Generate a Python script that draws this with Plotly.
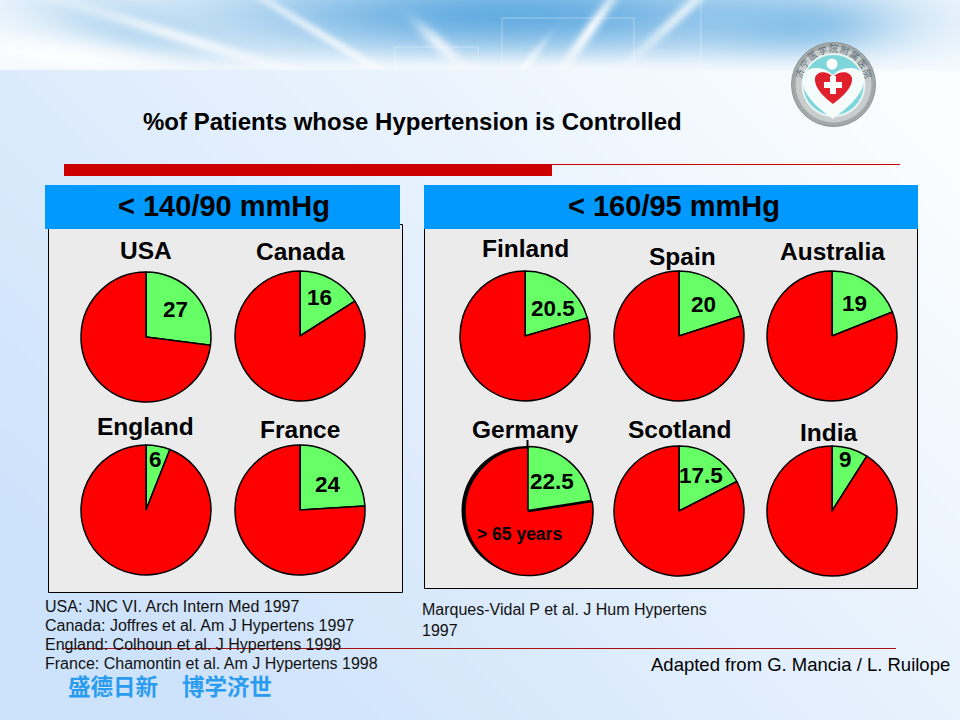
#  %of patients whose hypertension is controlled - slide with 10 pies
import base64
import math
import struct
import zlib
import numpy as np
import plotly.graph_objects as go

W, H = 960, 720
FONT = "Liberation Sans"

countries = ["USA", "Canada", "England", "France", "Finland", "Spain", "Australia", "Germany", "Scotland", "India"]
controlled = [27, 16, 6, 24, 20.5, 20, 19, 22.5, 17.5, 9]
citations_left = [
    "USA: JNC VI. Arch Intern Med 1997",
    "Canada: Joffres et al. Am J Hypertens 1997",
    "England: Colhoun et al. J Hypertens 1998",
    "France: Chamontin et al. Am J Hypertens 1998",
]
citations_right = ["Marques-Vidal P et al. J Hum Hypertens", "1997"]

# pixel layout of the slide, same order as countries
pie_centers = [(146, 337), (300, 336), (146, 510), (300, 510), (525, 336), (679, 336), (832, 336), (528, 511), (679, 511), (832, 511)]
name_pos = [(146, 250), (300, 252), (145, 426), (300, 429), (525, 248), (682, 256), (832, 251), (525, 429), (679, 429), (829, 432)]
value_pos = [(175, 309), (319, 297), (155, 460), (328, 484), (553, 308), (703, 304), (854, 303), (552, 482), (701, 475), (845, 460)]
RADIUS = 65

GREEN = "#66ff66"
RED = "#ff0000"


def px(x):
    return x / W


def py(y):
    return 1 - y / H


def domain(cx, cy, r):
    return dict(x=[px(cx - r), px(cx + r)], y=[py(cy + r), py(cy - r)])


def rect(x0, y0, x1, y1, fill, line=None, width=1, layer="below", opacity=1):
    return dict(type="rect", xref="paper", yref="paper", x0=px(x0), x1=px(x1), y0=py(y0), y1=py(y1),
                fillcolor=fill, line=dict(color=line, width=width if line else 0), layer=layer, opacity=opacity)


def circle(cx, cy, r, fill, line=None, width=1, layer="below"):
    return dict(type="circle", xref="paper", yref="paper", x0=px(cx - r), x1=px(cx + r), y0=py(cy + r), y1=py(cy - r),
                fillcolor=fill, line=dict(color=line, width=width if line else 0), layer=layer)


def seg(x0, y0, x1, y1, color, width=1, layer="above", opacity=1):
    return dict(type="line", xref="paper", yref="paper", x0=px(x0), x1=px(x1), y0=py(y0), y1=py(y1),
                line=dict(color=color, width=width), layer=layer, opacity=opacity)


def path(points, fill, layer="above"):
    # points are pixel coords, "C" groups three of them as a bezier
    s = ""
    for p in points:
        if isinstance(p, str):
            s += p + " "
        else:
            s += f"{px(p[0]):.5f},{py(p[1]):.5f} "
    return dict(type="path", xref="paper", yref="paper", path=s + "Z", fillcolor=fill, line=dict(width=0), layer=layer)


def label(x, y, text, size, bold=True, anchor="center", color="black", family=FONT, angle=0):
    return dict(xref="paper", yref="paper", x=px(x), y=py(y), text=f"<b>{text}</b>" if bold else text, showarrow=False,
                xanchor=anchor, yanchor="middle", textangle=angle, font=dict(family=family, size=size, color=color))


def blend(img, mask, color):
    for i in range(3):
        img[:, :, i] = img[:, :, i] * (1 - mask) + color[i] * mask


def make_background():
    # soft slide background, written as a small png with the stdlib
    w, h = 480, 360
    xs, ys = np.meshgrid((np.arange(w) + 0.5) * 2, (np.arange(h) + 0.5) * 2)
    t = np.clip((1 - xs / 960) * 0.75 + (ys / 720) * 0.55 - 0.15, 0, 1)
    img = np.zeros((h, w, 3))
    for i, (a, b) in enumerate(zip((250, 253, 255), (205, 226, 251))):
        img[:, :, i] = a + (b - a) * t

    band = np.ones((h, w, 3)) * 255.0
    band[:, :, 0] = 247
    band[:, :, 1] = 251

    def blob(cx, cy, sx, sy, ang, color, alpha):
        c, s = math.cos(ang), math.sin(ang)
        u = (xs - cx) * c + (ys - cy) * s
        v = -(xs - cx) * s + (ys - cy) * c
        blend(band, alpha * np.exp(-(u / sx) ** 2 - (v / sy) ** 2), color)

    blob(510, 15, 300, 42, 0, (95, 170, 225), 0.95)
    blob(800, 25, 90, 28, 0, (120, 185, 230), 0.75)
    blob(140, 30, 110, 25, 0.25, (150, 200, 235), 0.55)
    blob(70, 55, 120, 14, 0.1, (255, 255, 255), 0.8)
    blob(190, 40, 120, 7, 0.3, (255, 255, 255), 0.75)
    blob(330, 40, 110, 5, 0.55, (255, 255, 255), 0.7)
    blob(590, 30, 50, 6, -0.95, (255, 255, 255), 0.9)
    blob(680, 15, 60, 6, -0.75, (255, 255, 255), 0.7)
    blob(440, 45, 30, 7, 0.75, (255, 255, 255), 0.75)
    blob(530, 60, 25, 4, -0.9, (255, 255, 255), 0.6)
    blob(480, 72, 400, 14, 0, (255, 255, 255), 0.7)
    mask = (ys < 71) * 1.0
    blend(img, mask, (0, 0, 0))
    img += band * mask[:, :, None]

    raw = np.clip(img, 0, 255).astype(np.uint8)
    rows = b"".join(b"\x00" + raw[r].tobytes() for r in range(h))

    def chunk(tag, data):
        return struct.pack(">I", len(data)) + tag + data + struct.pack(">I", zlib.crc32(tag + data))

    png = b"\x89PNG\r\n\x1a\n" + chunk(b"IHDR", struct.pack(">IIBBBBB", w, h, 8, 2, 0, 0, 0))
    png += chunk(b"IDAT", zlib.compress(rows, 9)) + chunk(b"IEND", b"")
    return "data:image/png;base64," + base64.b64encode(png).decode()


def ring_text(text, cx, cy, r, start, step, size, color):
    # one annotation per character, walking around the logo ring
    out = []
    for i, ch in enumerate(text):
        a = math.radians(start + i * step)
        x = cx + r * math.sin(a)
        y = cy - r * math.cos(a)
        out.append(label(x, y, ch, size, bold=False, color=color, family="Noto Sans CJK SC", angle=start + i * step))
    return out


fig = go.Figure()

for name, val, (cx, cy) in zip(countries, controlled, pie_centers):
    if name == "Germany":
        # the slide has this one a bit knocked out of place: red shifted off the black disc
        fig.add_trace(go.Pie(values=[val, 100 - val], domain=domain(cx + 1, cy + 0.5, 64), sort=False, direction="clockwise",
                             marker=dict(colors=["rgba(0,0,0,0)", RED], line=dict(color=["rgba(0,0,0,0)", "black"], width=1.5)),
                             textinfo="none", hoverinfo="skip", showlegend=False))
        fig.add_trace(go.Pie(values=[val, 100 - val], domain=domain(cx, cy - 0.5, 64), sort=False, direction="clockwise",
                             marker=dict(colors=[GREEN, "rgba(0,0,0,0)"], line=dict(color=["black", "rgba(0,0,0,0)"], width=1.5)),
                             textinfo="none", hoverinfo="skip", showlegend=False))
        continue
    fig.add_trace(go.Pie(values=[val, 100 - val], domain=domain(cx, cy, RADIUS), sort=False, direction="clockwise",
                         marker=dict(colors=[GREEN, RED], line=dict(color="black", width=1.5)),
                         textinfo="none", hoverinfo="skip", showlegend=False))

shapes = [
    # panels
    rect(48.5, 224.5, 402.5, 592.5, "#ebebeb", "black", 1),
    rect(424.5, 224.5, 917.5, 588.5, "#ebebeb", "black", 1),
    rect(45, 185, 400, 229, "#0099ff"),
    rect(424, 185, 918, 229, "#0099ff"),
    # red rules
    rect(64, 164, 552, 176, "#cc0000"),
    seg(552, 164.5, 900, 164.5, "#cc0000", 1),
    seg(63, 648.5, 896, 648.5, "#a81010", 1),
    # germany shadow disc and tick
    circle(526, 510.5, 64.5, "black"),
    seg(527.5, 440, 527.5, 449, "black", 2),
    # faint squares in the banner
    seg(502, 18, 634, 18, "white", 1, "below", 0.35),
    seg(502, 18, 502, 70, "white", 1, "below", 0.35),
    seg(634, 18, 634, 70, "white", 1, "below", 0.35),
    seg(395, 47, 478, 47, "white", 1, "below", 0.35),
    seg(395, 47, 395, 70, "white", 1, "below", 0.35),
    seg(478, 47, 478, 70, "white", 1, "below", 0.35),
    seg(701, 0, 701, 70, "white", 1, "below", 0.35),
    # hospital logo
    circle(833.5, 84.5, 42, "#a3a9a9", "#8b9292", 1),
    circle(833.5, 84.5, 38, "#c9cdcd"),
    circle(833.5, 85, 31, "#7fd6da", "#e8f4f4", 2),
    circle(832, 64, 5.5, "white", layer="above"),
]
# white heart with the red heart on top, then the cross
shapes.append(path(["M", (833, 119), "C", (815, 106), (800, 92), (803, 76), "C", (806, 65), (825, 66), (833, 75), "C", (841, 66), (860, 65), (864, 76), "C", (866, 92), (850, 106), (833, 119)], "#f3fbfb"))
shapes.append(path(["M", (833, 104), "C", (825, 98), (814, 88), (815, 78), "C", (817, 70), (828, 71), (833, 77), "C", (838, 71), (850, 70), (852, 78), "C", (853, 88), (841, 98), (833, 104)], "#e0202c"))
shapes.append(rect(830, 76, 836, 94, "white", layer="above"))
shapes.append(rect(824, 82, 842, 88, "white", layer="above"))

annotations = [
    label(412, 121, "%of Patients whose Hypertension is Controlled", 24),
    label(224, 206, "&lt; 140/90 mmHg", 29),
    label(674, 206, "&lt; 160/95 mmHg", 29),
    label(519, 534, "&gt; 65 years", 17.5),
    label(952, 664, "Adapted from G. Mancia / L. Ruilope", 18.5, bold=False, anchor="right"),
    label(66, 685, "盛德日新", 22.5, anchor="left", color="#2a9cf0", family="Noto Sans CJK SC"),
    label(180, 685, "博学济世", 22.5, anchor="left", color="#2a9cf0", family="Noto Sans CJK SC"),
]
for name, val, np_, vp in zip(countries, controlled, name_pos, value_pos):
    annotations.append(label(np_[0], np_[1], name, 24.5))
    annotations.append(label(vp[0], vp[1], f"{val}", 22.5))
for i, line in enumerate(citations_left):
    annotations.append(label(43, 606 + i * 19, line, 16, bold=False, anchor="left", color="#111111"))
for i, line in enumerate(citations_right):
    annotations.append(label(420, 609 + i * 21, line, 16, bold=False, anchor="left", color="#111111"))
annotations += ring_text("济宁医学院附属医院", 833.5, 84.5, 35.5, -72, 18, 9, "#566a78")

fig.update_layout(
    width=W, height=H,
    margin=dict(l=0, r=0, t=0, b=0),
    paper_bgcolor="white",
    plot_bgcolor="rgba(0,0,0,0)",
    showlegend=False,
    images=[dict(source=make_background(), xref="paper", yref="paper", x=0, y=1, sizex=1, sizey=1,
                 xanchor="left", yanchor="top", sizing="stretch", layer="below")],
    shapes=shapes,
    annotations=annotations,
)

# page body has an 8px margin by default, the slide has to sit at 0,0
fig.write_html("out.html", config=dict(displayModeBar=False),
               post_script="document.body.style.margin='0';document.body.style.overflow='hidden';")
